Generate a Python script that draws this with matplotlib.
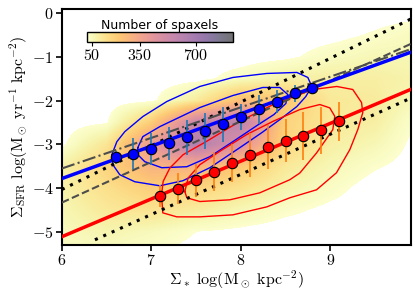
import numpy as np
import matplotlib
matplotlib.use("Agg")
import matplotlib.pyplot as plt

plt.rcParams.update({
    "mathtext.fontset": "cm",
    "font.family": "serif",
    "font.serif": ["cmr10"],
    "axes.formatter.use_mathtext": True,
    "axes.unicode_minus": True,
})

# binned medians
blue_x = [6.6, 6.8, 7.0, 7.2, 7.4, 7.6, 7.8, 8.0, 8.2, 8.4, 8.6, 8.8]
blue_y = [-3.29, -3.21, -3.10, -2.97, -2.84, -2.69, -2.54, -2.38, -2.20, -2.02, -1.83, -1.70]
blue_err = [0.15, 0.36, 0.36, 0.38, 0.40, 0.42, 0.40, 0.30, 0.33, 0.27, 0.20, 0.10]

red_x = [7.1, 7.3, 7.5, 7.7, 7.9, 8.1, 8.3, 8.5, 8.7, 8.9, 9.1]
red_y = [-4.17, -4.01, -3.82, -3.62, -3.42, -3.24, -3.06, -2.91, -2.80, -2.68, -2.47]
red_err = [0.25, 0.36, 0.38, 0.45, 0.44, 0.50, 0.50, 0.50, 0.55, 0.53, 0.44]

# fitted / reference relations (endpoints)
blue_fit_x = [6.0, 9.9]
blue_fit_y = [-3.78, -0.89]
red_fit_x = [6.0, 9.9]
red_fit_y = [-5.11, -1.74]
dot_hi_x = [6.0, 9.9]
dot_hi_y = [-4.03, -0.13]
dot_lo_x = [6.37, 9.9]
dot_lo_y = [-5.18, -1.94]
dash_x = [6.0, 9.9]
dash_y = [-4.33, -0.70]
dashdot_x = [6.0, 9.9]
dashdot_y = [-3.55, -0.82]

# density contours (data coords)
blue_outer = np.array([
    (6.559, -3.234), (6.615, -2.936), (6.704, -2.706), (6.905, -2.362), (7.173, -2.018),
    (7.542, -1.674), (7.911, -1.468), (8.291, -1.376), (8.626, -1.353), (8.749, -1.468),
    (8.793, -1.674), (8.726, -1.904), (8.626, -2.133), (8.436, -2.431), (8.235, -2.729),
    (7.989, -3.073), (7.654, -3.532), (7.352, -3.830), (7.095, -3.945), (6.816, -3.853),
    (6.648, -3.693), (6.570, -3.463), (6.559, -3.234)])
blue_inner = np.array([
    (6.849, -3.073), (6.905, -2.821), (7.095, -2.592), (7.542, -2.156), (7.911, -1.881),
    (8.246, -1.697), (8.436, -1.697), (8.525, -1.858), (8.503, -2.064), (8.369, -2.317),
    (8.179, -2.569), (7.911, -2.936), (7.654, -3.280), (7.397, -3.509), (7.117, -3.532),
    (6.927, -3.394), (6.849, -3.234), (6.849, -3.073)])
red_outer = np.array([
    (7.114, -4.151), (7.132, -3.846), (7.207, -3.539), (7.355, -3.234), (7.617, -2.929),
    (7.989, -2.470), (8.361, -2.087), (8.659, -1.858), (8.804, -1.743), (9.073, -1.674),
    (9.251, -1.743), (9.349, -2.041), (9.363, -2.271), (9.307, -2.661), (9.218, -3.119),
    (9.069, -3.647), (8.846, -4.037), (8.547, -4.220), (8.291, -4.427), (7.911, -4.610),
    (7.542, -4.656), (7.285, -4.656), (7.128, -4.564), (7.114, -4.151)])
red_inner = np.array([
    (7.374, -4.076), (7.411, -3.768), (7.542, -3.463), (7.765, -3.158), (8.064, -2.775),
    (8.361, -2.470), (8.659, -2.202), (8.883, -2.087), (8.994, -2.163), (9.050, -2.356),
    (9.028, -2.661), (8.846, -3.195), (8.659, -3.654), (8.547, -3.807), (8.212, -4.106),
    (7.877, -4.266), (7.542, -4.305), (7.397, -4.220), (7.374, -4.076)])

# spaxel counts, rows y = 0 ... -5.5, cols x = 6 ... 10 (step 0.5)
counts = np.array([
    [0, 0, 0, 0, 0, 0, 0, 0, 5],
    [0, 0, 0, 0, 0, 0, 5, 25, 50],
    [0, 0, 0, 0, 0, 10, 40, 60, 60],
    [0, 0, 0, 5, 40, 80, 90, 90, 70],
    [0, 0, 10, 100, 250, 220, 110, 100, 50],
    [0, 15, 200, 550, 600, 180, 110, 90, 10],
    [10, 120, 400, 650, 450, 170, 90, 60, 0],
    [80, 180, 300, 300, 220, 110, 60, 25, 0],
    [80, 140, 200, 180, 130, 70, 35, 0, 0],
    [60, 110, 130, 100, 60, 30, 10, 0, 0],
    [50, 70, 50, 20, 10, 0, 0, 0, 0],
    [30, 40, 20, 5, 0, 0, 0, 0, 0],
])
cbar_ticks = [50, 350, 700]

fig = plt.figure(figsize=(4.15, 2.97), dpi=100)
ax = fig.add_axes([0.149, 0.175, 0.841, 0.795])

cmap = plt.get_cmap("inferno_r").copy()
cmap.set_under((1, 1, 1, 0))
im = ax.imshow(counts, extent=[5.75, 10.25, -5.75, 0.25], origin="upper", aspect="auto",
               cmap=cmap, vmin=20, vmax=930, alpha=0.55, interpolation="bilinear",
               interpolation_stage="data", zorder=0)

for c in [blue_outer, blue_inner]:
    ax.plot(c[:, 0], c[:, 1], color="blue", lw=1.0, zorder=2)
for c in [red_outer, red_inner]:
    ax.plot(c[:, 0], c[:, 1], color="red", lw=1.0, zorder=2)

ax.plot(dot_hi_x, dot_hi_y, color="k", ls=(0, (1, 2)), lw=2.2, zorder=3)
ax.plot(dot_lo_x, dot_lo_y, color="k", ls=(0, (1, 2)), lw=2.2, zorder=3)
ax.plot(dash_x, dash_y, color="0.3", ls="--", lw=1.5, zorder=3)
ax.plot(dashdot_x, dashdot_y, color="0.3", ls="-.", lw=1.5, zorder=3)
ax.plot(blue_fit_x, blue_fit_y, color="blue", lw=2.5, zorder=3)
ax.plot(red_fit_x, red_fit_y, color="red", lw=2.5, zorder=3)

ax.errorbar(blue_x, blue_y, yerr=blue_err, fmt="none", ecolor="C0", elinewidth=1.2, zorder=4)
ax.errorbar(red_x, red_y, yerr=red_err, fmt="none", ecolor="C1", elinewidth=1.2, zorder=4)
ax.plot(blue_x, blue_y, "o", ms=7.5, mfc="blue", mec="k", mew=0.8, zorder=5)
ax.plot(red_x, red_y, "o", ms=7.5, mfc="red", mec="k", mew=0.8, zorder=5)

ax.set_xlim(6, 9.9)
ax.set_ylim(-5.3, 0.1)
ax.set_xticks([6, 7, 8, 9])
ax.set_yticks([-5, -4, -3, -2, -1, 0])
ax.tick_params(labelsize=11.5, width=1.2, length=4, pad=2)
for s in ax.spines.values():
    s.set_linewidth(1.5)
ax.set_xlabel(r"$\Sigma_*\ \mathrm{log(M_\odot\ kpc^{-2})}$", fontsize=11.5, labelpad=0)
ax.set_ylabel(r"$\Sigma_\mathrm{SFR}\ \mathrm{log(M_\odot\ yr^{-1}\ kpc^{-2})}$", fontsize=11.5, labelpad=1)

cax = ax.inset_axes([0.072, 0.86, 0.418, 0.042])
cb = fig.colorbar(im, cax=cax, orientation="horizontal", ticks=cbar_ticks)
cb.ax.tick_params(labelsize=11.5, length=3, width=0.8, pad=1)
cb.outline.set_linewidth(1.0)
cax.set_title("Number of spaxels", fontsize=9, family="DejaVu Sans", pad=2)

fig.savefig("out.png", dpi=100)
